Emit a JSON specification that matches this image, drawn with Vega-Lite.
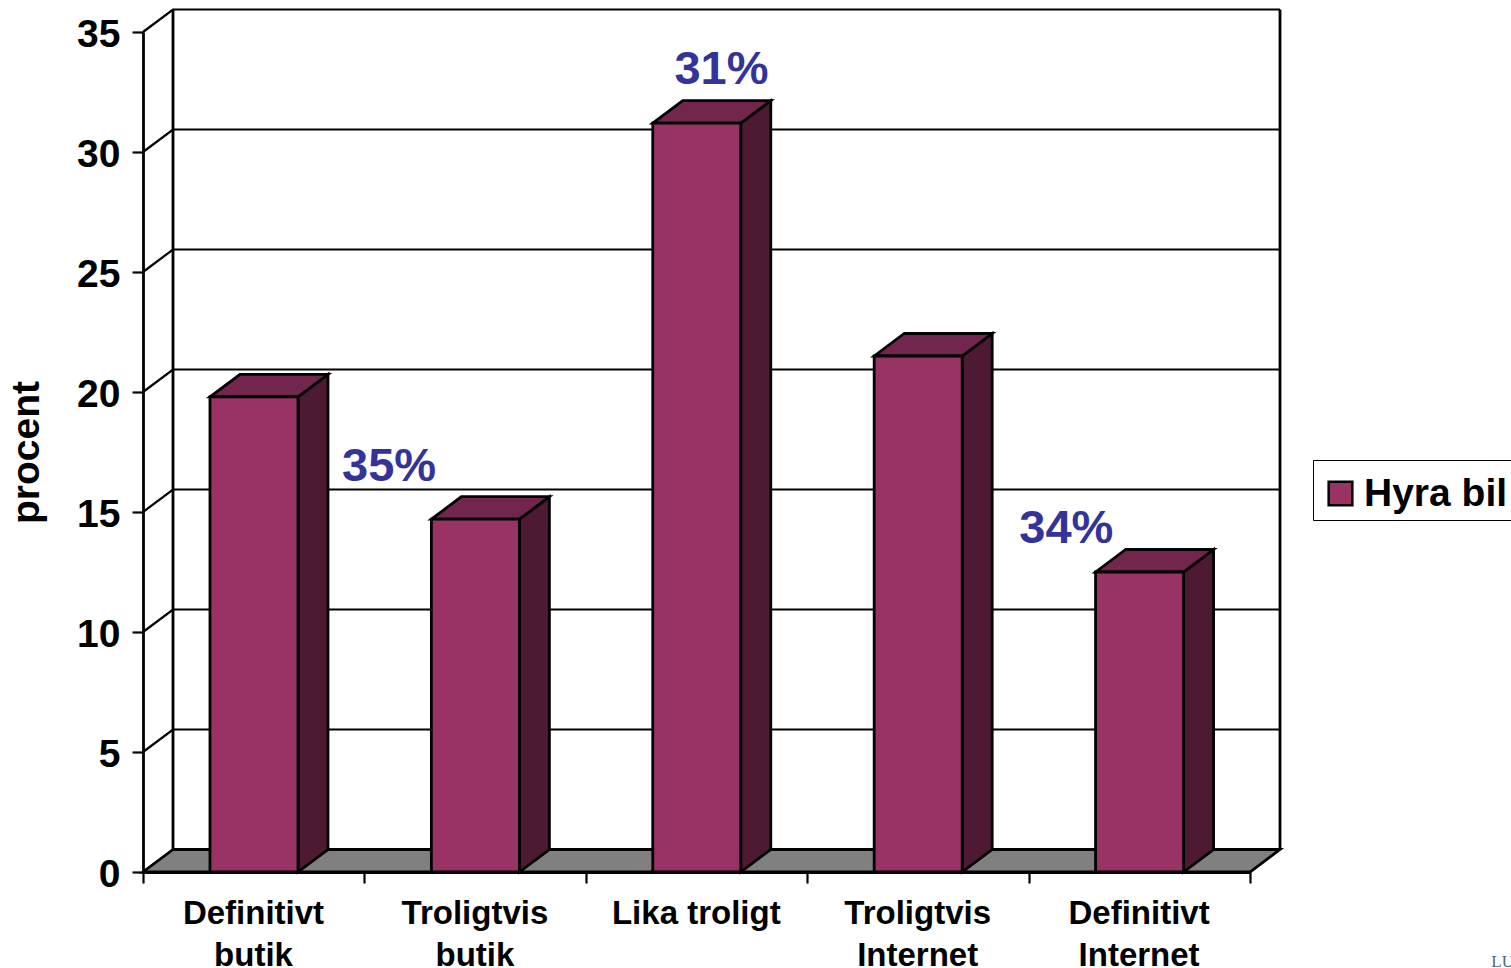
{
  "$schema": "https://vega.github.io/schema/vega-lite/v6.json",
  "width": 1107,
  "height": 840,
  "padding": {"left": 143, "top": 32, "right": 261, "bottom": 96},
  "autosize": {"type": "none"},
  "background": "white",
  "config": {"view": {"stroke": null}, "font": "Liberation Sans"},
  "params": [
    {"name": "depthX", "value": 0.1355},
    {"name": "depthY", "value": 0.9375}
  ],
  "datasets": {
    "survey": [
      {"category": "Definitivt butik", "value": 19.8, "note": null},
      {"category": "Troligtvis butik", "value": 14.7, "note": "35%"},
      {"category": "Lika troligt", "value": 31.2, "note": "31%"},
      {"category": "Troligtvis Internet", "value": 21.5, "note": null},
      {"category": "Definitivt Internet", "value": 12.5, "note": "34%"}
    ],
    "ticks": [
      {"tick": 0}, {"tick": 5}, {"tick": 10}, {"tick": 15},
      {"tick": 20}, {"tick": 25}, {"tick": 30}, {"tick": 35}
    ]
  },
  "layer": [
    {
      "data": {"name": "ticks"},
      "transform": [
        {"calculate": "[0, depthX, 5 + depthX]", "as": "gx"},
        {"calculate": "[datum.tick, datum.tick + depthY, datum.tick + depthY]", "as": "gy"},
        {"flatten": ["gx", "gy"]}
      ],
      "mark": {"type": "line", "color": "black", "strokeWidth": 2.2},
      "encoding": {
        "x": {
          "field": "gx",
          "type": "quantitative",
          "scale": {"domain": [0, 5], "nice": false, "zero": false},
          "axis": {
            "title": null,
            "grid": false,
            "values": [0, 1, 2, 3, 4, 5],
            "domainColor": "black",
            "domainWidth": 2.8,
            "tickColor": "black",
            "tickWidth": 2.2,
            "tickSize": 11,
            "labelOffset": 110,
            "labelFont": "Liberation Sans",
            "labelFontSize": 33,
            "labelFontWeight": "bold",
            "labelColor": "black",
            "labelPadding": 14,
            "labelLineHeight": 42,
            "labelOverlap": false,
            "labelBound": false,
            "labelFlush": false,
            "labelAngle": 0,
            "labelLimit": 400,
            "labelExpr": "[['Definitivt','butik'],['Troligtvis','butik'],['Lika troligt'],['Troligtvis','Internet'],['Definitivt','Internet'],['']][datum.value]"
          }
        },
        "y": {
          "field": "gy",
          "type": "quantitative",
          "scale": {"domain": [0, 35], "nice": false},
          "axis": {
            "title": "procent",
            "titleFont": "Liberation Sans",
            "titleFontSize": 39,
            "titleFontWeight": "bold",
            "titleColor": "black",
            "titlePadding": 30,
            "grid": false,
            "values": [0, 5, 10, 15, 20, 25, 30, 35],
            "domainColor": "black",
            "domainWidth": 2.8,
            "tickColor": "black",
            "tickWidth": 2.2,
            "tickSize": 11,
            "labelFont": "Liberation Sans",
            "labelFontSize": 39,
            "labelFontWeight": "bold",
            "labelColor": "black",
            "labelPadding": 12,
            "labelOffset": 2,
            "labelOverlap": false,
            "labelBound": false,
            "labelFlush": false
          }
        },
        "detail": {"field": "tick", "type": "nominal"}
      }
    },
    {
      "data": {"values": [{"wall": "left", "at": 0}, {"wall": "right", "at": 5}]},
      "transform": [
        {"calculate": "datum.at + depthX", "as": "wx"},
        {"calculate": "depthY", "as": "wy"},
        {"calculate": "35 + depthY", "as": "wy2"}
      ],
      "mark": {"type": "rule", "color": "black", "strokeWidth": 2.8},
      "encoding": {
        "x": {"field": "wx", "type": "quantitative", "scale": {"domain": [0, 5], "nice": false, "zero": false}},
        "y": {"field": "wy", "type": "quantitative", "scale": {"domain": [0, 35], "nice": false}},
        "y2": {"field": "wy2"}
      }
    },
    {
      "data": {"values": [{"surface": "floor"}]},
      "transform": [
        {"calculate": "[0, 1]", "as": "s"},
        {"flatten": ["s"]},
        {"calculate": "datum.s * depthY", "as": "fy"},
        {"calculate": "datum.s * depthX", "as": "fx"},
        {"calculate": "5 + datum.s * depthX", "as": "fx2"}
      ],
      "mark": {"type": "area", "orient": "horizontal", "color": "#808080", "stroke": "black", "strokeWidth": 2.8},
      "encoding": {
        "y": {"field": "fy", "type": "quantitative", "scale": {"domain": [0, 35], "nice": false}},
        "x": {"field": "fx", "type": "quantitative", "stack": null, "scale": {"domain": [0, 5], "nice": false, "zero": false}},
        "x2": {"field": "fx2"}
      }
    },
    {
      "data": {"name": "survey"},
      "transform": [
        {"window": [{"op": "row_number", "as": "rank"}]},
        {"calculate": "[0, 1]", "as": "s"},
        {"flatten": ["s"]},
        {"calculate": "datum.rank - 1 + 0.7 + datum.s * depthX", "as": "sx"},
        {"calculate": "datum.value + datum.s * depthY", "as": "sy"},
        {"calculate": "datum.s * depthY", "as": "sy2"}
      ],
      "mark": {"type": "area", "orient": "vertical", "color": "#4D1933", "stroke": "black", "strokeWidth": 2.8},
      "encoding": {
        "x": {"field": "sx", "type": "quantitative", "scale": {"domain": [0, 5], "nice": false, "zero": false}},
        "y": {"field": "sy", "type": "quantitative", "stack": null, "scale": {"domain": [0, 35], "nice": false}},
        "y2": {"field": "sy2"},
        "detail": {"field": "category", "type": "nominal"}
      }
    },
    {
      "data": {"name": "survey"},
      "transform": [
        {"window": [{"op": "row_number", "as": "rank"}]},
        {"calculate": "[0, 1]", "as": "s"},
        {"flatten": ["s"]},
        {"calculate": "datum.rank - 1 + 0.3025 + datum.s * depthX", "as": "tx"},
        {"calculate": "datum.rank - 1 + 0.7 + datum.s * depthX", "as": "tx2"},
        {"calculate": "datum.value + datum.s * depthY", "as": "ty"}
      ],
      "mark": {"type": "area", "orient": "horizontal", "color": "#73264D", "stroke": "black", "strokeWidth": 2.8},
      "encoding": {
        "y": {"field": "ty", "type": "quantitative", "scale": {"domain": [0, 35], "nice": false}},
        "x": {"field": "tx", "type": "quantitative", "stack": null, "scale": {"domain": [0, 5], "nice": false, "zero": false}},
        "x2": {"field": "tx2"},
        "detail": {"field": "category", "type": "nominal"}
      }
    },
    {
      "data": {"name": "survey"},
      "transform": [
        {"window": [{"op": "row_number", "as": "rank"}]},
        {"calculate": "datum.rank - 1 + 0.3025", "as": "x1"},
        {"calculate": "datum.rank - 1 + 0.7", "as": "x2"}
      ],
      "mark": {"type": "rect", "stroke": "black", "strokeWidth": 2.8},
      "encoding": {
        "x": {"field": "x1", "type": "quantitative", "scale": {"domain": [0, 5], "nice": false, "zero": false}},
        "x2": {"field": "x2"},
        "y": {"field": "value", "type": "quantitative", "scale": {"domain": [0, 35], "nice": false}},
        "y2": {"datum": 0},
        "color": {
          "datum": "Hyra bil",
          "scale": {"range": ["#993366"]},
          "legend": {
            "title": " ",
            "titleFontSize": 4,
            "titlePadding": 4,
            "orient": "none",
            "legendX": 1170,
            "legendY": 428,
            "strokeColor": "black",
            "fillColor": "white",
            "padding": 6,
            "symbolType": "square",
            "symbolSize": 560,
            "symbolOffset": 2,
            "symbolStrokeColor": "black",
            "symbolStrokeWidth": 2.5,
            "labelFont": "Liberation Sans",
            "labelFontSize": 39,
            "labelFontWeight": "bold",
            "labelColor": "black",
            "labelOffset": 4,
            "labelLimit": 400
          }
        }
      }
    },
    {
      "data": {"name": "survey"},
      "transform": [
        {"window": [{"op": "row_number", "as": "rank"}]},
        {"filter": "datum.note === '35%'"},
        {"calculate": "datum.rank - 0.5", "as": "cx"}
      ],
      "mark": {"type": "text", "font": "Liberation Sans", "fontSize": 47, "fontWeight": "bold", "color": "#333399", "baseline": "middle", "align": "center", "dx": -86, "dy": -52},
      "encoding": {
        "x": {"field": "cx", "type": "quantitative", "scale": {"domain": [0, 5], "nice": false, "zero": false}},
        "y": {"field": "value", "type": "quantitative", "scale": {"domain": [0, 35], "nice": false}},
        "text": {"field": "note"}
      }
    },
    {
      "data": {"name": "survey"},
      "transform": [
        {"window": [{"op": "row_number", "as": "rank"}]},
        {"filter": "datum.note === '31%'"},
        {"calculate": "datum.rank - 0.5", "as": "cx"}
      ],
      "mark": {"type": "text", "font": "Liberation Sans", "fontSize": 47, "fontWeight": "bold", "color": "#333399", "baseline": "middle", "align": "center", "dx": 25, "dy": -53},
      "encoding": {
        "x": {"field": "cx", "type": "quantitative", "scale": {"domain": [0, 5], "nice": false, "zero": false}},
        "y": {"field": "value", "type": "quantitative", "scale": {"domain": [0, 35], "nice": false}},
        "text": {"field": "note"}
      }
    },
    {
      "data": {"name": "survey"},
      "transform": [
        {"window": [{"op": "row_number", "as": "rank"}]},
        {"filter": "datum.note === '34%'"},
        {"calculate": "datum.rank - 0.5", "as": "cx"}
      ],
      "mark": {"type": "text", "font": "Liberation Sans", "fontSize": 47, "fontWeight": "bold", "color": "#333399", "baseline": "middle", "align": "center", "dx": -73, "dy": -43},
      "encoding": {
        "x": {"field": "cx", "type": "quantitative", "scale": {"domain": [0, 5], "nice": false, "zero": false}},
        "y": {"field": "value", "type": "quantitative", "scale": {"domain": [0, 35], "nice": false}},
        "text": {"field": "note"}
      }
    },
    {
      "data": {"values": [{"imprint": "LU"}]},
      "mark": {"type": "text", "font": "Liberation Serif", "fontSize": 17, "color": "#4A6A80", "align": "left", "baseline": "alphabetic"},
      "encoding": {
        "x": {"datum": 6.09, "type": "quantitative", "scale": {"domain": [0, 5], "nice": false, "zero": false}},
        "y": {"datum": -3.96, "type": "quantitative", "scale": {"domain": [0, 35], "nice": false}},
        "text": {"field": "imprint"}
      }
    }
  ]
}
